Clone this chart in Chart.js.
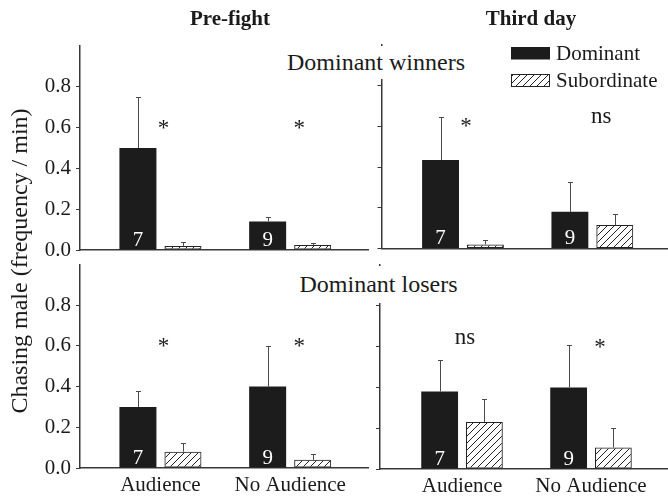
<!DOCTYPE html>
<html>
<head>
<meta charset="utf-8">
<script src="https://cdn.jsdelivr.net/npm/chart.js@4.4.1/dist/chart.umd.min.js"></script>
<style>
  body { margin: 0; background: #fff; }
  #wrap { position: relative; width: 668px; height: 499px; overflow: hidden;
          font-family: "Liberation Serif", "Times New Roman", serif; color: #1a1a1a; }
  #wrap canvas { position: absolute; left: 0; top: 0; }
  .lbl { position: absolute; white-space: nowrap; text-align: center; }
  .head { font-size: 21px; line-height: 24px; font-weight: bold; width: 120px; top: 6px; }
  .grp { font-size: 24px; background: #fff; }
</style>
</head>
<body>
<div id="wrap">
  <canvas id="c1" width="668" height="499"></canvas>
  <canvas id="c2" width="668" height="499"></canvas>
  <canvas id="c3" width="668" height="499"></canvas>
  <canvas id="c4" width="668" height="499"></canvas>
  <div class="lbl head" style="left:170px">Pre-fight</div>
  <div class="lbl head" style="left:471px">Third day</div>
  <div class="lbl grp" style="left:285px;top:46px;width:182px;height:33px;line-height:33px">Dominant winners</div>
  <div class="lbl grp" style="left:297px;top:266px;width:163px;height:37px;line-height:37px">Dominant losers</div>
  <div class="lbl" style="left:-181px;top:249px;width:400px;height:24px;font-size:24px;line-height:24px;transform:rotate(-90deg)">Chasing male (frequency / min)</div>
</div>
<script>
var groups = ['Audience', 'No Audience'];
var nFish = ['7', '9'];
var seriesNames = ['Dominant', 'Subordinate'];

// Dominant winners, pre-fight
var winPreDom = [0.50, 0.14];
var winPreDomSE = [0.25, 0.02];
var winPreSub = [0.02, 0.025];
var winPreSubSE = [0.018, 0.011];
var winPreSig = ['*', '*'];

// Dominant winners, third day
var winDayDom = [0.435, 0.18];
var winDayDomSE = [0.21, 0.145];
var winDaySub = [0.02, 0.115];
var winDaySubSE = [0.02, 0.055];
var winDaySig = ['*', 'ns'];

// Dominant losers, pre-fight
var losPreDom = [0.30, 0.40];
var losPreDomSE = [0.08, 0.20];
var losPreSub = [0.08, 0.04];
var losPreSubSE = [0.045, 0.03];
var losPreSig = ['*', '*'];

// Dominant losers, third day
var losDayDom = [0.38, 0.40];
var losDayDomSE = [0.155, 0.21];
var losDaySub = [0.23, 0.105];
var losDaySubSE = [0.115, 0.095];
var losDaySig = ['ns', '*'];

var FONT = '"Liberation Serif", "Times New Roman", serif';
var INK = '#1a1a1a';
var AXIS = '#383838';

// hatch tile for the subordinate bars
var tile = document.createElement('canvas');
tile.width = 7; tile.height = 7;
var tc = tile.getContext('2d');
tc.strokeStyle = '#222';
tc.lineWidth = 1;
tc.beginPath();
tc.moveTo(-1, 8); tc.lineTo(8, -1);
tc.moveTo(-1, 1); tc.lineTo(1, -1);
tc.moveTo(6, 8); tc.lineTo(8, 6);
tc.stroke();
var hatch = document.getElementById('c1').getContext('2d').createPattern(tile, 'repeat');

function panel(id, dom, domSE, sub, subSE, sig, area, showX, showY, withLegend) {
    var vals = [dom, sub];
    var ses = [domSE, subSE];
    var yW = showY ? 80 : 20;
    var xH = showX ? 30 : 10;

    var marks = {
        id: 'marks' + id,
        afterDatasetsDraw: function (chart) {
            var ctx = chart.ctx;
            var ys = chart.scales.y;
            ctx.save();
            // upper error bars
            ctx.strokeStyle = '#4a4a4a';
            ctx.lineWidth = 1;
            for (var d = 0; d < 2; d++) {
                chart.getDatasetMeta(d).data.forEach(function (bar, i) {
                    var top = Math.round(ys.getPixelForValue(vals[d][i] + ses[d][i])) + 0.5;
                    var x = Math.round(bar.x) + 0.5;
                    ctx.beginPath();
                    ctx.moveTo(x, bar.y);
                    ctx.lineTo(x, top);
                    ctx.moveTo(x - 2.5, top);
                    ctx.lineTo(x + 2.5, top);
                    ctx.stroke();
                });
            }
            // sample sizes inside dominant bars
            ctx.fillStyle = '#fff';
            ctx.font = '21px ' + FONT;
            ctx.textAlign = 'center';
            ctx.textBaseline = 'alphabetic';
            chart.getDatasetMeta(0).data.forEach(function (bar, i) {
                ctx.fillText(nFish[i], bar.x, bar.base - 4);
            });
            // significance marks
            ctx.fillStyle = INK;
            ctx.font = '23px ' + FONT;
            var xs = chart.scales.x;
            sig.forEach(function (s, i) {
                var x = xs.getPixelForValue(i) + (i == 0 ? 3 : 9);
                var y = ys.getPixelForValue(0.6);
                ctx.fillText(s, x, s == '*' ? y + 7 : y - 3);
            });
            // legend
            if (withLegend) {
                ctx.fillStyle = chart.data.datasets[0].backgroundColor;
                ctx.fillRect(511, 47, 39, 12.5);
                ctx.fillStyle = hatch;
                ctx.fillRect(511.5, 74.5, 38, 12);
                ctx.strokeStyle = '#222';
                ctx.strokeRect(511.5, 74.5, 38, 12);
                ctx.fillStyle = INK;
                ctx.font = '21px ' + FONT;
                ctx.textAlign = 'left';
                ctx.fillText(seriesNames[0], 556, 59.5);
                ctx.fillText(seriesNames[1], 556, 87);
            }
            ctx.restore();
        }
    };

    return new Chart(document.getElementById(id), {
        type: 'bar',
        data: {
            datasets: [{
                label: seriesNames[0],
                data: dom.map(function (v, i) { return {x: i, y: v}; }),
                backgroundColor: '#1c1c1c',
                borderWidth: 0
            }, {
                label: seriesNames[1],
                data: sub.map(function (v, i) { return {x: i, y: v}; }),
                backgroundColor: hatch,
                borderColor: '#222',
                borderWidth: 1,
                borderSkipped: false
            }]
        },
        options: {
            responsive: false,
            animation: false,
            events: [],
            categoryPercentage: 0.694,
            barPercentage: 0.822,
            layout: {
                padding: {left: area.left - yW, top: area.top, right: 668 - area.right, bottom: 499 - area.bottom - xH}
            },
            plugins: {legend: {display: false}, tooltip: {enabled: false}},
            scales: {
                x: {
                    type: 'linear',
                    min: area.xmin,
                    max: area.xmax,
                    offset: false,
                    grid: {display: false, drawTicks: false, offset: false},
                    border: {display: true, color: AXIS, width: 1.5},
                    afterBuildTicks: function (s) { s.ticks = groups.map(function (g, i) { return {value: i}; }); },
                    afterFit: function (s) { s.height = xH; },
                    ticks: {
                        display: showX,
                        padding: 5,
                        color: INK,
                        font: {family: FONT, size: 21},
                        callback: function (v) { return groups[v]; }
                    }
                },
                y: {
                    min: 0,
                    max: 1,
                    grid: {display: true, drawOnChartArea: false, drawTicks: true, tickLength: 4, color: AXIS, lineWidth: 1},
                    border: {display: true, color: AXIS, width: 1.5},
                    afterBuildTicks: function (s) { s.ticks = s.ticks.filter(function (t) { return t.value < 0.9; }); },
                    afterFit: function (s) { s.width = yW; },
                    ticks: {
                        display: showY,
                        stepSize: 0.2,
                        padding: 5,
                        color: INK,
                        font: {family: FONT, size: 21},
                        callback: function (v) { return v.toFixed(1); }
                    }
                }
            }
        },
        plugins: [marks]
    });
}

panel('c1', winPreDom, winPreDomSE, winPreSub, winPreSubSE, winPreSig,
    {left: 80, top: 46, right: 368, bottom: 250, xmin: -0.62, xmax: 1.6}, false, true, false);
panel('c2', winDayDom, winDayDomSE, winDaySub, winDaySubSE, winDaySig,
    {left: 381.5, top: 45, right: 668, bottom: 248.5, xmin: -0.63, xmax: 1.585}, false, false, true);
panel('c3', losPreDom, losPreDomSE, losPreSub, losPreSubSE, losPreSig,
    {left: 80, top: 264.5, right: 368, bottom: 468, xmin: -0.62, xmax: 1.6}, true, true, false);
panel('c4', losDayDom, losDayDomSE, losDaySub, losDaySubSE, losDaySig,
    {left: 380, top: 265, right: 668, bottom: 469, xmin: -0.636, xmax: 1.597}, true, false, false);
</script>
</body>
</html>
